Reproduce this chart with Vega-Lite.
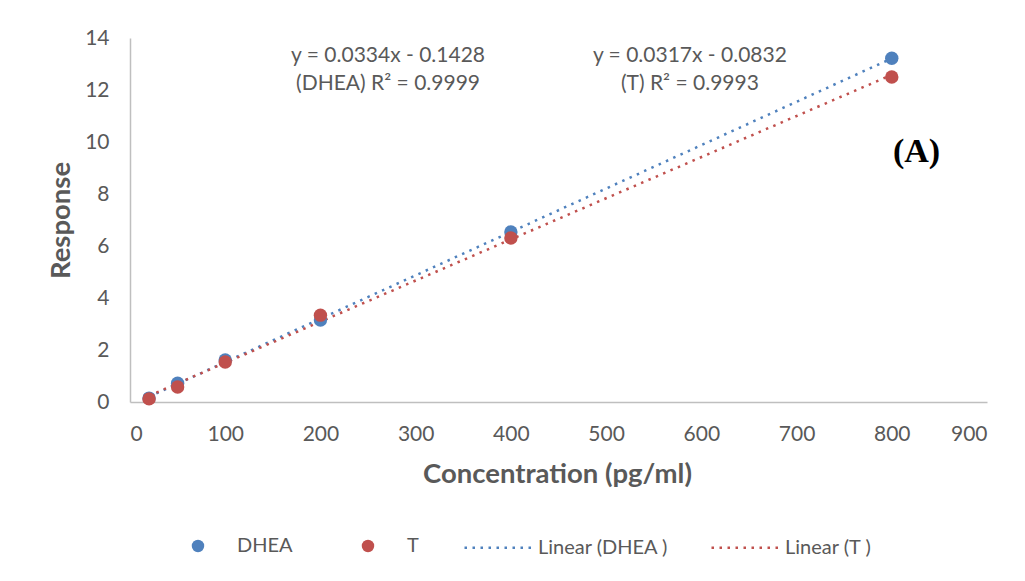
{
  "$schema": "https://vega.github.io/schema/vega-lite/v6.json",
  "width": 857,
  "height": 364,
  "autosize": {"type": "none"},
  "padding": {"left": 130, "top": 38, "right": 38, "bottom": 179},
  "background": "white",
  "config": {"view": {"stroke": null}, "font": "Lato", "legend": {"padding": 0}},
  "datasets": {
    "pts": [
      {"series": "DHEA", "trend": "Linear (DHEA )", "Concentration": 20, "Response": 0.15},
      {"series": "DHEA", "trend": "Linear (DHEA )", "Concentration": 50, "Response": 0.72},
      {"series": "DHEA", "trend": "Linear (DHEA )", "Concentration": 100, "Response": 1.62},
      {"series": "DHEA", "trend": "Linear (DHEA )", "Concentration": 200, "Response": 3.15},
      {"series": "DHEA", "trend": "Linear (DHEA )", "Concentration": 400, "Response": 6.54},
      {"series": "DHEA", "trend": "Linear (DHEA )", "Concentration": 800, "Response": 13.22},
      {"series": "T", "trend": "Linear (T )", "Concentration": 20, "Response": 0.12},
      {"series": "T", "trend": "Linear (T )", "Concentration": 50, "Response": 0.58},
      {"series": "T", "trend": "Linear (T )", "Concentration": 100, "Response": 1.54},
      {"series": "T", "trend": "Linear (T )", "Concentration": 200, "Response": 3.34},
      {"series": "T", "trend": "Linear (T )", "Concentration": 400, "Response": 6.31},
      {"series": "T", "trend": "Linear (T )", "Concentration": 800, "Response": 12.5}
    ],
    "notes": [
      {"Concentration": 271, "Response": 13.31, "note": "y = 0.0334x - 0.1428"},
      {"Concentration": 271, "Response": 12.23, "note": "(DHEA) R² = 0.9999"},
      {"Concentration": 588, "Response": 13.31, "note": "y = 0.0317x - 0.0832"},
      {"Concentration": 588, "Response": 12.23, "note": "(T) R² = 0.9993"}
    ],
    "tag": [
      {"Concentration": 826, "Response": 9.6, "note": "(A)"}
    ]
  },
  "resolve": {"scale": {"color": "independent"}},
  "layer": [
    {
      "data": {"name": "pts"},
      "transform": [{"regression": "Response", "on": "Concentration", "groupby": ["trend"]}],
      "mark": {"type": "line", "strokeDash": [2.5, 5.5], "strokeWidth": 2.5},
      "encoding": {
        "x": {"field": "Concentration", "type": "quantitative"},
        "y": {"field": "Response", "type": "quantitative"},
        "color": {
          "field": "trend", "type": "nominal",
          "scale": {"domain": ["Linear (DHEA )", "Linear (T )"], "range": ["#4F81BD", "#C0504D"]},
          "legend": {
            "title": null, "orient": "none", "legendX": 333, "legendY": 473,
            "direction": "horizontal", "columns": 2, "columnPadding": 37,
            "symbolType": "stroke", "symbolSize": 4900, "symbolStrokeWidth": 2.5,
            "symbolDash": [2.5, 5.5], "labelOffset": 2,
            "labelFontSize": 20, "labelColor": "#595959", "labelLimit": 300
          }
        }
      }
    },
    {
      "data": {"name": "pts"},
      "mark": {"type": "circle", "size": 180, "opacity": 1},
      "encoding": {
        "x": {
          "field": "Concentration", "type": "quantitative",
          "scale": {"domain": [0, 900], "nice": false},
          "axis": {
            "values": [0, 100, 200, 300, 400, 500, 600, 700, 800, 900],
            "grid": false, "ticks": false, "tickSize": 0,
            "domainColor": "#bfbfbf", "domainWidth": 1.5,
            "labelFontSize": 21, "labelColor": "#595959", "labelPadding": 21,
            "title": "Concentration (pg/ml)", "titleFontSize": 27.5, "titleFontWeight": "bold",
            "titleColor": "#595959", "titleX": 427, "titleY": 72, "titleBaseline": "middle"
          }
        },
        "y": {
          "field": "Response", "type": "quantitative",
          "scale": {"domain": [0, 14], "nice": false},
          "axis": {
            "values": [0, 2, 4, 6, 8, 10, 12, 14],
            "grid": false, "ticks": false, "tickSize": 0,
            "domainColor": "#bfbfbf", "domainWidth": 1.5,
            "labelFontSize": 21, "labelColor": "#595959", "labelPadding": 21,
            "title": "Response", "titleFontSize": 27.5, "titleFontWeight": "bold",
            "titleColor": "#595959", "titleX": -69, "titleY": 182, "titleBaseline": "middle"
          }
        },
        "color": {
          "field": "series", "type": "nominal",
          "scale": {"domain": ["DHEA", "T"], "range": ["#4F81BD", "#C0504D"]},
          "legend": {
            "title": null, "orient": "none", "legendX": 58, "legendY": 498,
            "direction": "horizontal", "columns": 2, "columnPadding": 65,
            "symbolType": "circle", "symbolSize": 155, "symbolOpacity": 1, "labelOffset": 29,
            "labelFontSize": 20, "labelColor": "#595959", "labelLimit": 300
          }
        }
      }
    },
    {
      "data": {"name": "notes"},
      "mark": {"type": "text", "fontSize": 21, "color": "#595959", "align": "center", "baseline": "middle"},
      "encoding": {
        "x": {"field": "Concentration", "type": "quantitative"},
        "y": {"field": "Response", "type": "quantitative"},
        "text": {"field": "note"}
      }
    },
    {
      "data": {"name": "tag"},
      "mark": {"type": "text", "fontSize": 34, "font": "Liberation Serif", "fontWeight": "bold", "color": "#000000", "align": "center", "baseline": "middle"},
      "encoding": {
        "x": {"field": "Concentration", "type": "quantitative"},
        "y": {"field": "Response", "type": "quantitative"},
        "text": {"field": "note"}
      }
    }
  ]
}
